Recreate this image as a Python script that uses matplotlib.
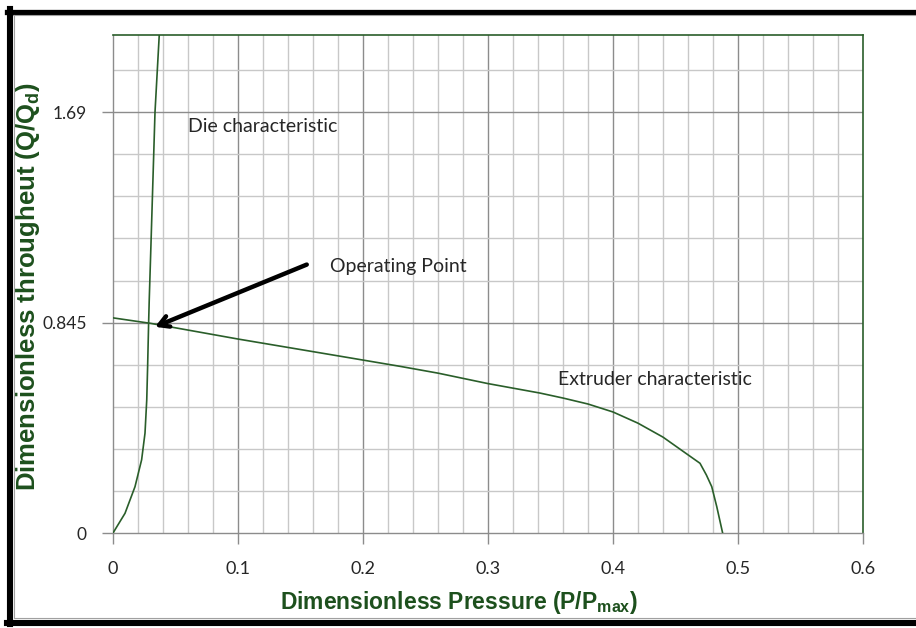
import matplotlib.pyplot as plt
from matplotlib.lines import Line2D
import numpy as np

# ---- data ----
ext_p = [0.0, 0.03, 0.10, 0.19, 0.23, 0.26, 0.30, 0.3416, 0.36, 0.38, 0.40, 0.42,
         0.44, 0.46, 0.4696, 0.4747, 0.479, 0.483, 0.4877]
ext_q = [0.864, 0.842, 0.779, 0.703, 0.669, 0.642, 0.600, 0.562, 0.542, 0.518, 0.486, 0.441,
         0.385, 0.314, 0.280, 0.233, 0.186, 0.106, 0.0]

die_p = [0.0, 0.0096, 0.0176, 0.0229, 0.0256, 0.027, 0.0277, 0.0285, 0.029, 0.0303, 0.0336, 0.037]
die_q = [0.0, 0.079, 0.186, 0.294, 0.401, 0.535, 0.669, 0.844, 0.938, 1.147, 1.69, 2.0]

x_ticks = [0, 0.1, 0.2, 0.3, 0.4, 0.5, 0.6]
x_ticklabels = ["0", "0.1", "0.2", "0.3", "0.4", "0.5", "0.6"]
y_ticks = [0, 0.845, 1.69]
y_ticklabels = ["0", "0.845", "1.69"]

green = "#2a5e2a"
label_green = "#1d501d"
txt = "#262626"
lab_font = "Liberation Sans"
tick_font = "Lato"

fig = plt.figure(figsize=(9.16, 6.28), dpi=100)
ax = fig.add_axes([113 / 916, 95 / 628, 750 / 916, 498 / 628])

# grid: minor every 0.02 / 0.169, major every 0.1 / 0.845
for i in range(1, 30):
    ax.axvline(i * 0.02, color="#8c8c8c" if i % 5 == 0 else "#c8c8c8", lw=1.0, zorder=1)
for j in range(1, 12):
    ax.axhline(j * 0.169, color="#8c8c8c" if j % 5 == 0 else "#c8c8c8", lw=1.0, zorder=1)

ax.plot(ext_p, ext_q, color=green, lw=1.2, zorder=3)
ax.plot(die_p, die_q, color=green, lw=1.2, zorder=3)

ax.set_xlim(0, 0.6)
ax.set_ylim(0, 2.0)
ax.set_xticks(x_ticks)
ax.set_xticklabels(x_ticklabels)
ax.set_yticks(y_ticks)
ax.set_yticklabels(y_ticklabels)
ax.tick_params(axis="both", direction="out", length=8, width=1, color="#8c8c8c",
               labelsize=13, labelcolor=txt)
ax.tick_params(axis="x", pad=12)
ax.tick_params(axis="y", pad=11, labelsize=12.5)
for lbl in ax.get_xticklabels() + ax.get_yticklabels():
    lbl.set_fontfamily(tick_font)

for s in ["top", "right"]:
    ax.spines[s].set_color(green)
    ax.spines[s].set_linewidth(1.2)
for s in ["left", "bottom"]:
    ax.spines[s].set_color("#8c8c8c")
    ax.spines[s].set_linewidth(1.0)

ax.set_xlabel("Dimensionless Pressure (P/P$_{\\mathregular{max}}$)", fontsize=16.5,
              fontweight="bold", color=label_green, family=lab_font)
ax.set_ylabel("Dimensionless througheut (Q/Q$_{\\mathregular{d}}$)", fontsize=18.5,
              fontweight="bold", color=label_green, family=lab_font)
ax.xaxis.set_label_coords(0.461, -0.112)
ax.yaxis.set_label_coords(-0.094, 0.495)

# annotations
ax.text(0.06, 1.634, "Die characteristic", fontsize=14, family=tick_font,
        color=txt, va="center", ha="left")
ax.text(0.1736, 1.072, "Operating Point", fontsize=14, family=tick_font,
        color=txt, va="center", ha="left")
ax.text(0.3563, 0.616, "Extruder characteristic", fontsize=14, family=tick_font,
        color=txt, va="center", ha="left")
ax.annotate("", xy=(0.0336, 0.828), xytext=(0.155, 1.078),
            arrowprops=dict(arrowstyle="->,head_length=0.7,head_width=0.4",
                            color="black", lw=3.2, shrinkA=0, shrinkB=0), zorder=5)

# outer frame
fig.add_artist(Line2D([0.0076, 1.0], [1 - 11.5 / 628] * 2, color="black", lw=3.8))
fig.add_artist(Line2D([0.0076, 1.0], [1 - 15 / 628] * 2, color="#a0a0a0", lw=0.8))
fig.add_artist(Line2D([10 / 916] * 2, [4.5 / 628, 1 - 9 / 628], color="black", lw=4.4))
fig.add_artist(Line2D([14.5 / 916] * 2, [10 / 628, 1 - 15 / 628], color="#a0a0a0", lw=0.8))
fig.add_artist(Line2D([0.0076, 1.0], [5.5 / 628] * 2, color="black", lw=4.4))
fig.add_artist(Line2D([0.016, 1.0], [10.5 / 628] * 2, color="#a0a0a0", lw=0.8))

plt.savefig("out.png", dpi=100)
